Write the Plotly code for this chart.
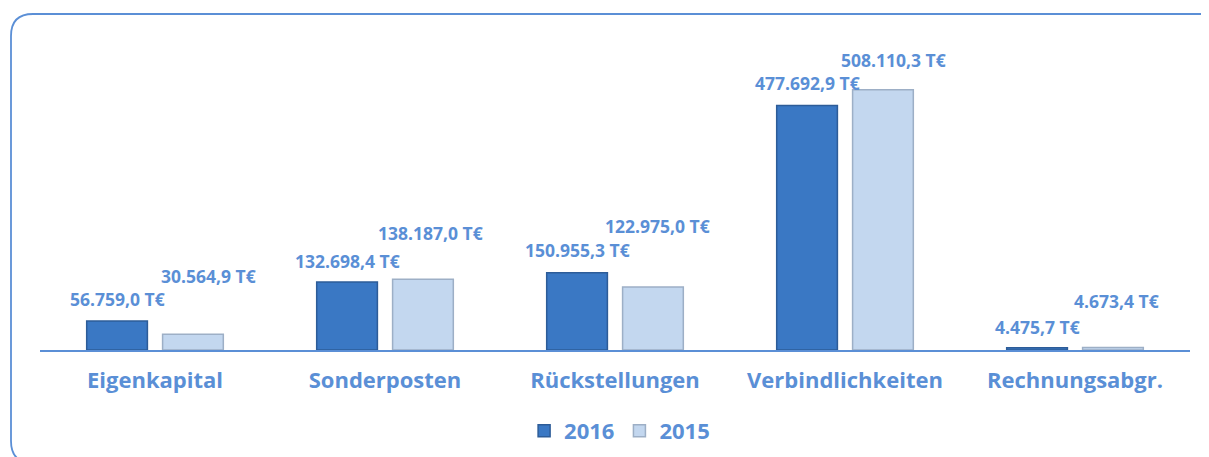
import plotly.graph_objects as go

categories = ["Eigenkapital", "Sonderposten", "Rückstellungen", "Verbindlichkeiten", "Rechnungsabgr."]
values_2016 = [56759.0, 132698.4, 150955.3, 477692.9, 4475.7]
values_2015 = [30564.9, 138187.0, 122975.0, 508110.3, 4673.4]
series_names = ["2016", "2015"]

# label placement offsets (pixels) – styling only
label_dx_2016 = [0, 0, 0, 0, 0]
label_dy_2016 = [22, 21, 23, 22, 21]
label_dx_2015 = [15, 7, 4, 10, 3]
label_dy_2015 = [58, 46, 61, 30, 47]

BLUE_TXT = "#5A8FD6"
C2016 = "#3A78C4"
C2015 = "#C3D7EF"
FONT = "Open Sans"

# page body has an 8px margin: figure is drawn 8px in from the top-left
W, H = 1201, 449
L, R, T, B = 32, 19, 32, 107


def fmt(v):
    s = f"{v:,.1f}"
    s = s.replace(",", "X").replace(".", ",").replace("X", ".")
    return s + " T€"


fig = go.Figure()
fig.add_trace(go.Bar(
    x=categories, y=values_2016, name=series_names[0],
    marker=dict(color=C2016, line=dict(color="#2D5C98", width=1.5)),
))
fig.add_trace(go.Bar(
    x=categories, y=values_2015, name=series_names[1],
    marker=dict(color=C2015, line=dict(color="#9DAFC6", width=1.5)),
))

annotations = []
for i, c in enumerate(categories):
    annotations.append(dict(
        x=c, y=values_2016[i], xref="x", yref="y", text=fmt(values_2016[i]),
        showarrow=False, xshift=-38 + label_dx_2016[i], yshift=label_dy_2016[i],
        yanchor="middle", xanchor="center",
        font=dict(family=FONT, size=17.5, color=BLUE_TXT, weight="bold"),
    ))
    annotations.append(dict(
        x=c, y=values_2015[i], xref="x", yref="y", text=fmt(values_2015[i]),
        showarrow=False, xshift=38 + label_dx_2015[i], yshift=label_dy_2015[i],
        yanchor="middle", xanchor="center",
        font=dict(family=FONT, size=17.5, color=BLUE_TXT, weight="bold"),
    ))

pw, ph = W - L - R, H - T - B


def px(x):
    return (x - L) / pw


def py(y):
    return (H - B - y) / ph


x0, y0, x1, y1, r = 3, 6, 1214, 455, 22
path = (
    f"M {px(x0 + r)},{py(y0)} L {px(x1 - r)},{py(y0)} "
    f"Q {px(x1)},{py(y0)} {px(x1)},{py(y0 + r)} "
    f"L {px(x1)},{py(y1 - r)} Q {px(x1)},{py(y1)} {px(x1 - r)},{py(y1)} "
    f"L {px(x0 + r)},{py(y1)} Q {px(x0)},{py(y1)} {px(x0)},{py(y1 - r)} "
    f"L {px(x0)},{py(y0 + r)} Q {px(x0)},{py(y0)} {px(x0 + r)},{py(y0)} Z"
)

fig.update_layout(
    width=W, height=H,
    margin=dict(l=L, r=R, t=T, b=B, autoexpand=False),
    paper_bgcolor="white", plot_bgcolor="white",
    barmode="group", bargap=0.34, bargroupgap=0.2,
    showlegend=True,
    legend=dict(
        orientation="h", x=0.504, xanchor="center",
        yref="container", y=1 - 423 / H, yanchor="middle",
        font=dict(family=FONT, size=22, color=BLUE_TXT, weight="bold"),
        itemwidth=30, traceorder="normal",
    ),
    xaxis=dict(
        showline=True, linecolor="#5B8FD6", linewidth=2, showgrid=False,
        ticks="", ticklabelstandoff=10, automargin=False,
        tickfont=dict(family=FONT, size=22, color=BLUE_TXT, weight="bold"),
    ),
    yaxis=dict(range=[0, 605500], visible=False, showgrid=False, zeroline=False,
               automargin=False),
    annotations=annotations,
    shapes=[dict(type="path", xref="paper", yref="paper", path=path,
                 line=dict(color="#5B8FD6", width=1.8), layer="below")],
)

fig.write_html("out.html")
